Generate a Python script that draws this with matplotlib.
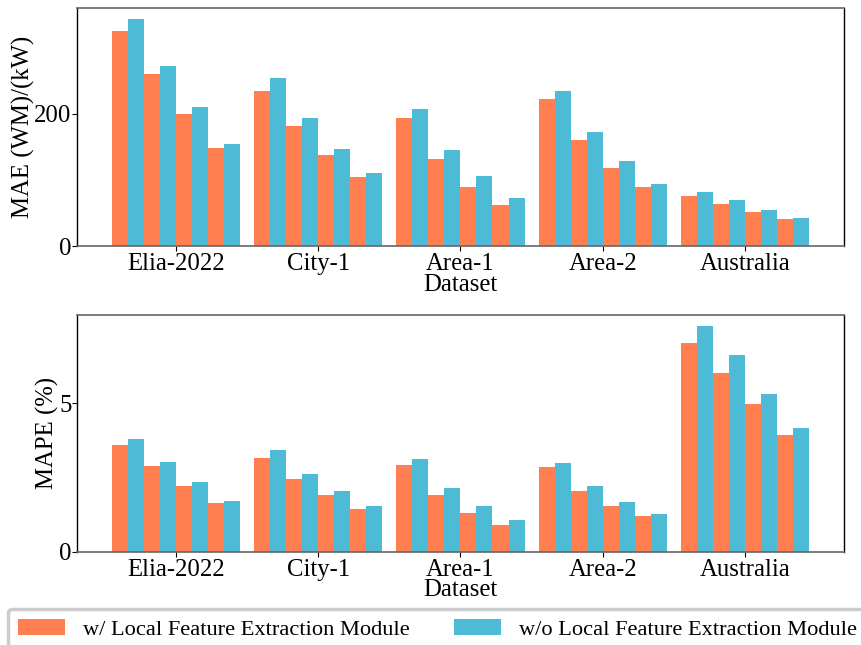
import numpy as np
import matplotlib
matplotlib.use("Agg")
import matplotlib.pyplot as plt
from matplotlib.ticker import MultipleLocator

plt.rcParams['font.family'] = ['Liberation Serif', 'DejaVu Serif']
plt.rcParams['font.size'] = 17.8

datasets = ['Elia-2022', 'City-1', 'Area-1', 'Area-2', 'Australia']

# four paired settings per dataset: with / without the module
mae_with = [[325, 261, 200, 149],
            [234, 182, 138, 105],
            [194, 131, 90, 62],
            [223, 161, 118, 90],
            [76, 64, 52, 41]]
mae_without = [[343, 273, 211, 155],
               [254, 194, 147, 111],
               [208, 146, 106, 73],
               [234, 172, 128, 94],
               [82, 70, 55, 42]]

mape_with = [[3.59, 2.88, 2.21, 1.64],
             [3.15, 2.44, 1.91, 1.43],
             [2.91, 1.91, 1.30, 0.90],
             [2.85, 2.04, 1.54, 1.20],
             [7.02, 6.01, 4.97, 3.92]]
mape_without = [[3.79, 3.02, 2.34, 1.70],
                [3.42, 2.61, 2.04, 1.54],
                [3.12, 2.14, 1.54, 1.07],
                [2.98, 2.21, 1.67, 1.27],
                [7.59, 6.61, 5.30, 4.16]]

c_with = '#FF7F50'
c_without = '#4DBAD6'
label_with = 'w/ Local Feature Extraction Module'
label_without = 'w/o Local Feature Extraction Module'

fig = plt.figure(figsize=(8.62, 6.45), dpi=100)
ax1 = fig.add_axes([0.0893, 0.6186, 0.8898, 0.369])
ax2 = fig.add_axes([0.0893, 0.1446, 0.8898, 0.367])

x = np.arange(len(datasets))
n_pairs = 4
w = 0.9 / (2 * n_pairs)


def draw(ax, with_vals, without_vals, ylabel, step, ypad):
    with_vals = np.array(with_vals)
    without_vals = np.array(without_vals)
    for k in range(n_pairs):
        off = -0.45 + (2 * k + 0.5) * w
        ax.bar(x + off, with_vals[:, k], w, color=c_with,
               label=label_with if k == 0 else None)
        ax.bar(x + off + w, without_vals[:, k], w, color=c_without,
               label=label_without if k == 0 else None)
    ax.set_xticks(x)
    ax.set_xticklabels(datasets)
    ax.set_xlabel('Dataset', labelpad=-1)
    ax.set_ylabel(ylabel, labelpad=ypad)
    ax.yaxis.set_major_locator(MultipleLocator(step))
    ax.tick_params(axis='x', pad=1.5)
    ax.tick_params(axis='y', pad=0.5)
    for s in ['top', 'bottom']:
        ax.spines[s].set_color('#666666')
        ax.spines[s].set_linewidth(1.2)
    for s in ['left', 'right']:
        ax.spines[s].set_color('black')
        ax.spines[s].set_linewidth(1.0)


draw(ax1, mae_with, mae_without, 'MAE (WM)/(kW)', 200, -0.5)
draw(ax2, mape_with, mape_without, 'MAPE (%)', 5, 0)

handles, labels = ax1.get_legend_handles_labels()
leg = fig.legend(handles, labels, loc='upper left', bbox_to_anchor=(0.009, 0.056),
                 borderaxespad=0, ncol=2, fontsize=16.1, handlelength=2.1,
                 handleheight=0.75, handletextpad=0.8, columnspacing=2.0,
                 borderpad=0.45, fancybox=True, framealpha=1)
leg.get_frame().set_edgecolor('#cccccc')
leg.get_frame().set_linewidth(2.5)

fig.savefig('out.png', dpi=100)
